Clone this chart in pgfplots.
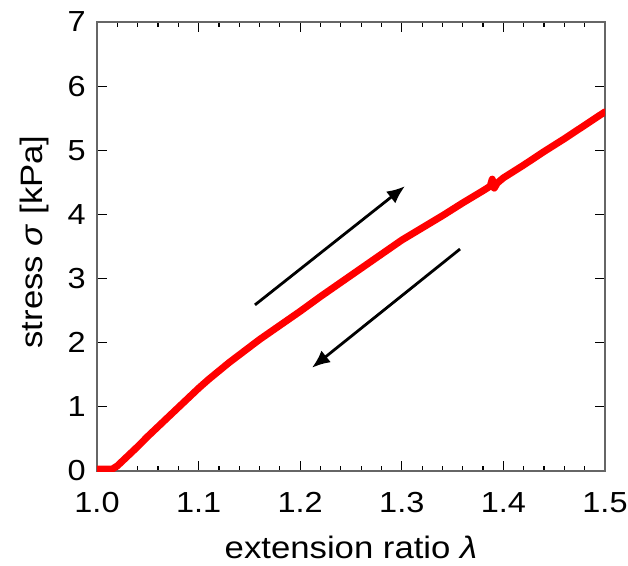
\documentclass[border=0pt]{standalone}
\usepackage{fontspec}
\setmainfont{Liberation Sans}[FakeStretch=1.12]
\usepackage{pgfplots}
\pgfplotsset{compat=1.18}
\usetikzlibrary{arrows.meta}
\begin{document}
\begin{tikzpicture}
\begin{axis}[
  at={(0,0)}, anchor=south west,
  scale only axis, width=508pt, height=449pt,
  xmin=1.0, xmax=1.5, ymin=0, ymax=7,
  xtick={1.0,1.1,1.2,1.3,1.4,1.5},
  ytick={0,1,2,3,4,5,6,7},
  xticklabels={1.0,1.1,1.2,1.3,1.4,1.5},
  yticklabels={0,1,2,3,4,5,6,7},
  minor x tick num=4,
  tick align=inside,
  major tick length=10pt, minor tick length=5pt,
  axis line style={draw=black!60, line width=1.6pt},
  every tick/.style={black, line width=1.2pt},
  tick label style={font=\fontsize{29}{29}\selectfont, inner sep=1pt},
  /pgf/number format/assume math mode=true,
  xticklabel style={yshift=-20pt},
  yticklabel style={xshift=-10pt},
  xlabel={extension ratio \textit{λ}},
  ylabel={stress \textit{σ} [kPa]},
  label style={font=\fontsize{31}{31}\selectfont},
  xlabel style={at={(axis description cs:0.5,0)}, anchor=base, yshift=-87pt},
  ylabel style={at={(axis description cs:-0.108,0.51)}, anchor=base, rotate=0},
]
\addplot[red, line width=7pt, line join=round, line cap=round] coordinates {
(1.000,0.03) (1.015,0.03) (1.020,0.08) (1.030,0.23) (1.040,0.38)
(1.050,0.54) (1.060,0.69) (1.070,0.84) (1.080,0.99) (1.090,1.14)
(1.100,1.29) (1.110,1.43) (1.120,1.56) (1.130,1.69) (1.140,1.81)
(1.150,1.93) (1.160,2.05) (1.170,2.16) (1.180,2.27) (1.190,2.38)
(1.200,2.49) (1.220,2.72) (1.240,2.94) (1.260,3.16) (1.280,3.38)
(1.300,3.60) (1.320,3.79) (1.340,3.98) (1.360,4.18) (1.380,4.37)
(1.387,4.44) (1.389,4.55) (1.391,4.41) (1.394,4.49)
(1.400,4.57) (1.420,4.77) (1.440,4.98) (1.460,5.18) (1.480,5.39)
(1.500,5.60)
};
\draw[black, line width=2.8pt, -{Latex[length=18pt,width=15pt]}] (axis cs:1.1555,2.59) -- (axis cs:1.3031,4.44);
\draw[black, line width=2.8pt, -{Latex[length=18pt,width=15pt]}] (axis cs:1.3573,3.46) -- (axis cs:1.2116,1.61);
\end{axis}
\pgfresetboundingbox
\path[use as bounding box] (-97pt,-94pt) rectangle (531pt,471pt);
\end{tikzpicture}
\end{document}
